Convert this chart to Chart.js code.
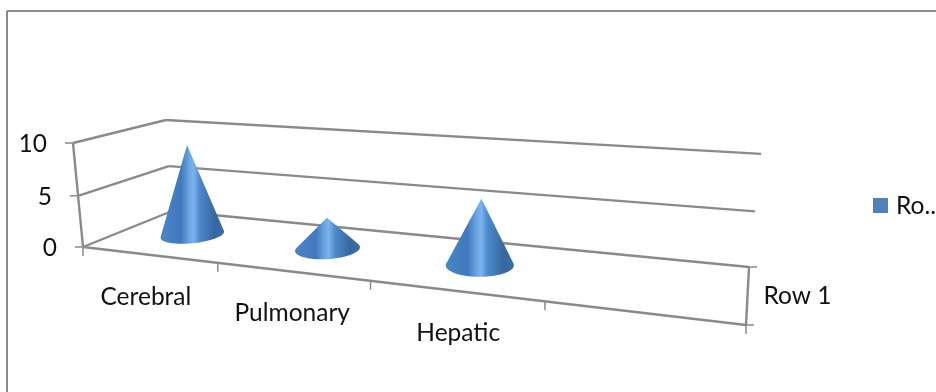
<!DOCTYPE html>
<html>
<head>
<meta charset="utf-8">
<style>
  body { margin: 0; background: #fff; }
  #chart { display: block; }
</style>
<script src="https://cdn.jsdelivr.net/npm/chart.js@4"></script>
</head>
<body>
<canvas id="chart" width="936" height="392"></canvas>
<script>
const categories = ['Cerebral', 'Pulmonary', 'Hepatic', ''];
const seriesName = 'Row 1';
const legendText = 'Ro..';
const seriesValues = [9, 3, 6, null];
const valueMin = 0;
const valueMax = 10;
const valueStep = 5;

const LINE = '#8a8a8a';
const FONT = { family: 'Lato', size: 24.5 };
const CONE_DEPTH = 0.23;

// floor corners on screen, the walls lean toward a far vanishing point
const floor = { fl: [83, 247], fr: [746, 325], br: [749, 267], bl: [172, 211] };
const vanish = [399, 3535];
const liftK = -0.03066;

function floorMatrix(q) {
    const [x0, y0] = q.fl, [x1, y1] = q.fr, [x2, y2] = q.br, [x3, y3] = q.bl;
    const dx1 = x1 - x2, dx2 = x3 - x2, sx = x0 - x1 + x2 - x3;
    const dy1 = y1 - y2, dy2 = y3 - y2, sy = y0 - y1 + y2 - y3;
    const den = dx1 * dy2 - dx2 * dy1;
    const g = (sx * dy2 - dx2 * sy) / den;
    const h = (dx1 * sy - sx * dy1) / den;
    return {
        a: x1 - x0 + g * x1, b: x3 - x0 + h * x3, c: x0,
        d: y1 - y0 + g * y1, e: y3 - y0 + h * y3, f: y0,
        g: g, h: h
    };
}
const M = floorMatrix(floor);

// u along the categories, v into the depth, t up the value axis, all 0..1
function project(u, v, t) {
    const w = M.g * u + M.h * v + 1 + liftK * t;
    const x = M.a * u + M.b * v + M.c + liftK * vanish[0] * t;
    const y = M.d * u + M.e * v + M.f + liftK * vanish[1] * t;
    return [x / w, y / w];
}

function segment(ctx, a, b) {
    ctx.beginPath();
    ctx.moveTo(a[0], a[1]);
    ctx.lineTo(b[0], b[1]);
    ctx.stroke();
}

class ConeController extends Chart.BarController {
    draw() {
        const area = this.chart.chartArea;
        const ctx = this.chart.ctx;
        this.getMeta().data.forEach((bar, i) => {
            if (seriesValues[i] === null) return;
            const uc = (bar.x - area.left) / area.width;
            const ru = bar.width / 2 / area.width;
            const top = (bar.base - bar.y) / area.height;
            drawCone(ctx, uc, ru, top);
        });
    }
}
ConeController.id = 'cone';
Chart.register(ConeController);

function drawCone(ctx, uc, ru, top) {
    const tip = project(uc, 0.5, top);
    const rim = [];
    const n = 120;
    let left = 0, right = 0, minS = Infinity, maxS = -Infinity;
    for (let i = 0; i < n; i++) {
        const a = Math.PI * 2 * i / n;
        const p = project(uc + ru * Math.cos(a), 0.5 + CONE_DEPTH * Math.sin(a), 0);
        rim.push(p);
        const s = (p[0] - tip[0]) / (p[1] - tip[1]);
        if (s < minS) { minS = s; left = i; }
        if (s > maxS) { maxS = s; right = i; }
    }
    const x0 = Math.min(...rim.map(p => p[0]));
    const x1 = Math.max(...rim.map(p => p[0]));
    const grad = ctx.createLinearGradient(x0, 0, x1, 0);
    grad.addColorStop(0, '#4a86c8');
    grad.addColorStop(0.32, '#4079bc');
    grad.addColorStop(0.46, '#6da7e4');
    grad.addColorStop(0.52, '#7ab3ee');
    grad.addColorStop(0.62, '#4c88ca');
    grad.addColorStop(0.85, '#36689f');
    grad.addColorStop(1, '#3a6ea8');

    ctx.save();
    ctx.fillStyle = grad;
    ctx.beginPath();
    ctx.moveTo(tip[0], tip[1]);
    for (let i = left; i !== right; i = (i + 1) % n) {
        ctx.lineTo(rim[i][0], rim[i][1]);
    }
    ctx.lineTo(rim[right][0], rim[right][1]);
    ctx.closePath();
    ctx.fill();
    ctx.restore();
}

// page frame plus the walls, floor, ticks and labels of the 3D box
const box3d = {
    id: 'box3d',
    beforeDatasetsDraw(chart) {
        const { ctx, chartArea: area, scales } = chart;
        const xs = scales.x, ys = scales.y;
        const toU = (value) => (xs.getPixelForValue(value) - area.left) / area.width;
        const toT = (value) => (area.bottom - ys.getPixelForValue(value)) / area.height;

        ctx.save();
        ctx.strokeStyle = '#8c8c8c';
        ctx.lineWidth = 2;
        segment(ctx, [7, 392], [7, 11]);
        segment(ctx, [7, 11], [936, 11]);

        ctx.strokeStyle = LINE;
        ctx.lineCap = 'butt';
        ctx.font = `${FONT.size}px ${FONT.family}`;
        ctx.fillStyle = '#111';
        ctx.textBaseline = 'middle';

        ys.ticks.forEach((tick) => {
            const t = toT(tick.value);
            const front = project(0, 0, t);
            const back = project(0, 1, t);
            const right = project(1, 1, t);
            ctx.lineWidth = 2.4;
            segment(ctx, front, back);
            segment(ctx, back, right);
            ctx.lineWidth = 1.5;
            segment(ctx, [front[0] - 8, front[1]], front);
            ctx.textAlign = 'right';
            ctx.fillText(tick.label, front[0] - 26, front[1] + 1);
        });

        // value axis, right side of the floor, front edge
        ctx.lineWidth = 2.4;
        segment(ctx, project(0, 0, 0), project(0, 0, 1));
        segment(ctx, project(1, 1, 0), project(1, 0, 0));
        segment(ctx, project(0, 0, 0), project(1, 0, 0));

        ctx.lineWidth = 1.5;
        for (let i = 0; i <= categories.length; i++) {
            const p = project(toU(i - 0.5), 0, 0);
            segment(ctx, p, [p[0], p[1] + 9]);
        }
        [project(1, 1, 0), project(1, 0, 0)].forEach((p) => {
            segment(ctx, p, [p[0] + 8, p[1]]);
        });

        ctx.textAlign = 'center';
        categories.forEach((name, i) => {
            const u = toU(i);
            const p = project(u, 0, 0);
            ctx.fillText(name, p[0] - 4 + 12 * u, p[1] + 42);
        });

        const rowA = project(1, 1, 0), rowB = project(1, 0, 0);
        ctx.textAlign = 'left';
        ctx.fillText(seriesName, (rowA[0] + rowB[0]) / 2 + 16, (rowA[1] + rowB[1]) / 2);

        // legend swatch and its shortened text
        ctx.fillStyle = chart.data.datasets[0].backgroundColor;
        ctx.fillRect(873, 198, 15, 15);
        ctx.fillStyle = '#111';
        ctx.fillText(legendText, 896, 206);
        ctx.restore();
    }
};

new Chart(document.getElementById('chart'), {
    type: 'cone',
    data: {
        labels: categories,
        datasets: [{
            label: seriesName,
            data: seriesValues,
            backgroundColor: '#4f81bd',
            categoryPercentage: 1,
            barPercentage: 0.4
        }]
    },
    options: {
        responsive: false,
        animation: false,
        scales: {
            x: { type: 'category', display: false, offset: true },
            y: { type: 'linear', display: false, min: valueMin, max: valueMax, ticks: { stepSize: valueStep } }
        },
        plugins: {
            tooltip: { enabled: false },
            legend: { display: false }
        }
    },
    plugins: [box3d]
});
</script>
</body>
</html>
